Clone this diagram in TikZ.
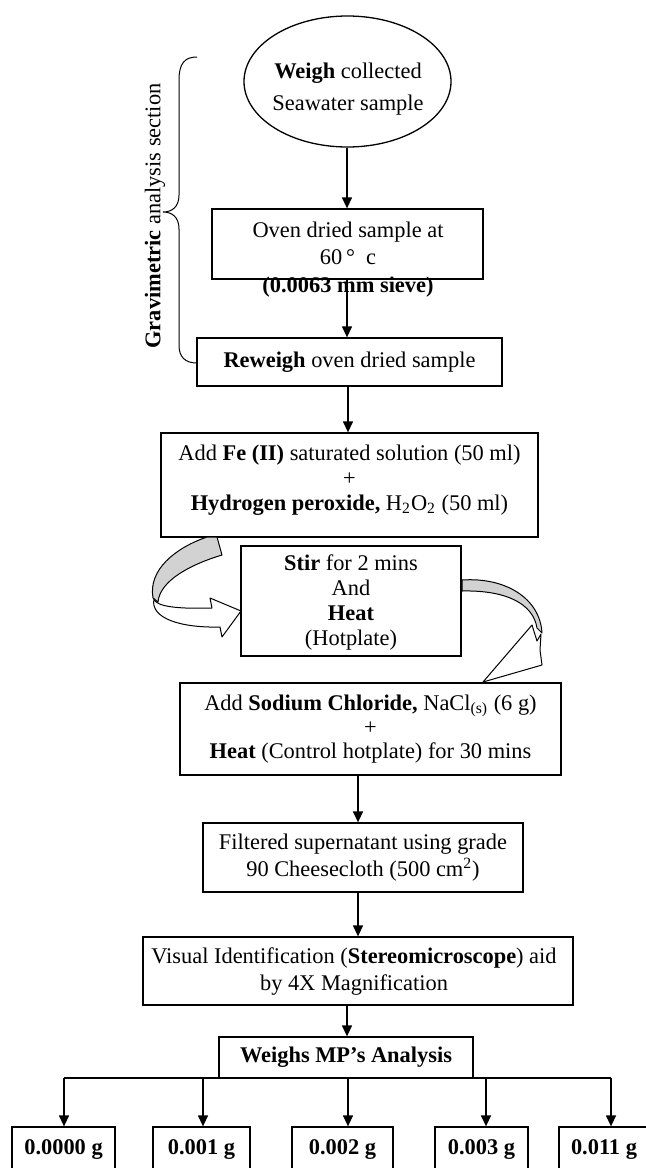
\documentclass[tikz,border=0pt]{standalone}
\usepackage{fontspec}
\setmainfont{Liberation Serif}
\usetikzlibrary{arrows.meta,shapes.geometric}
\begin{document}
\begin{tikzpicture}[x=0.5pt,y=-0.5pt,
  line width=0.65pt,
  box/.style={draw,rectangle,inner sep=0pt,line width=0.65pt},
  txt/.style={align=center,inner sep=0pt,font=\fontsize{11.2pt}{12.5pt}\selectfont},
  arr/.style={-{Triangle[length=5.5pt,width=5pt]},line width=0.65pt},
  band/.style={draw,fill=gray!35,line width=0.5pt,line join=round},
  wharrow/.style={draw,fill=white,line width=0.5pt,line join=round}]
\useasboundingbox (0,0) rectangle (646,1168);
\clip (0,0) rectangle (646,1168);

% ellipse
\node[draw,ellipse,minimum width=103.5pt,minimum height=65.5pt,inner sep=0pt] (ell) at (347.5,81.5) {};
\node[txt,font=\fontsize{11.2pt}{16pt}\selectfont] (ellt) at (348,89) {\textbf{Weigh} collected\\Seawater sample};

% brace and side label
\draw[line width=0.5pt] (197,57) .. controls (185,57) and (179,63) .. (179,80) -- (179,195)
  .. controls (179,207) and (172,212) .. (163,212)
  .. controls (172,212) and (179,217) .. (179,229) -- (179,345)
  .. controls (179,357) and (185,363) .. (197,363);
\node[txt,rotate=90] (side) at (155,216) {\textbf{Gravimetric} analysis section};

% oven
\node[box,minimum width=135.5pt,minimum height=35pt] (oven) at (347.5,244) {};
\node[txt,font=\fontsize{11.2pt}{13.7pt}\selectfont] (ovent) at (348,259.5) {Oven dried sample at\\60\,°\enspace c\\\textbf{(0.0063 mm sieve)}};

% reweigh
\node[box,minimum width=152.5pt,minimum height=24pt,txt] (rew) at (349.5,362) {\textbf{Reweigh} oven dried sample};

% Fe box
\node[box,minimum width=188.5pt,minimum height=52pt] (fe) at (349.5,485) {};
\node[txt] (fet) at (349.5,480) {Add \textbf{Fe (II)} saturated solution (50 ml)\\+\\\textbf{Hydrogen peroxide,} H\textsubscript{2}O\textsubscript{2} (50 ml)};

% stir box
\node[box,minimum width=110pt,minimum height=55pt] (stir) at (351,601) {};
\node[txt] (stirt) at (351,602.5) {\textbf{Stir} for 2 mins\\And\\\textbf{Heat}\\(Hotplate)};

% NaCl box
\node[box,minimum width=190.5pt,minimum height=46pt] (nacl) at (370.5,729) {};
\node[txt,font=\fontsize{11.2pt}{12pt}\selectfont] (naclt) at (370.5,729) {Add \textbf{Sodium Chloride,} NaCl\textsubscript{(s)} (6 g)\\+\\\textbf{Heat} (Control hotplate) for 30 mins};

% filtered
\node[box,minimum width=160pt,minimum height=34.5pt] (filt) at (363,857.5) {};
\node[txt,font=\fontsize{11.2pt}{13.5pt}\selectfont] (filtt) at (363,858) {Filtered supernatant using grade\\90 Cheesecloth (500 cm\textsuperscript{2})};

% visual
\node[box,minimum width=215pt,minimum height=34pt] (vis) at (358,971) {};
\node[txt,font=\fontsize{11.2pt}{13.5pt}\selectfont] (vist) at (354,972) {Visual Identification (\textbf{Stereomicroscope}) aid\\by 4X Magnification};

% weighs
\node[box,minimum width=127pt,minimum height=20.5pt,txt] (wms) at (346,1057.5) {\textbf{Weighs MP’s Analysis}};

% results
\node[box,minimum width=51.5pt,minimum height=31.5pt] (r1) at (63.5,1158.5) {};
\node[box,minimum width=48.5pt,minimum height=31.5pt] (r2) at (201.5,1158.5) {};
\node[box,minimum width=50.5pt,minimum height=31.5pt] (r3) at (342.5,1158.5) {};
\node[box,minimum width=46.5pt,minimum height=31.5pt] (r4) at (481.5,1158.5) {};
\node[box,minimum width=51.5pt,minimum height=31.5pt] (r5) at (610.5,1158.5) {};
\node[txt] (r1t) at (63.5,1150) {\textbf{0.0000 g}};
\node[txt] (r2t) at (201.5,1150) {\textbf{0.001 g}};
\node[txt] (r3t) at (342.5,1150) {\textbf{0.002 g}};
\node[txt] (r4t) at (481.5,1150) {\textbf{0.003 g}};
\node[txt] (r5t) at (604,1150) {\textbf{0.011 g}};

% main arrows
\coordinate (c0) at (347,0);
\draw[arr] (ell.south -| c0) -- (oven.north -| c0);
\draw[arr] (oven.south -| c0) -- (rew.north -| c0);
\coordinate (c1) at (348,0);
\draw[arr] (rew.south -| c1) -- (fe.north -| c1);
\coordinate (c2) at (358,0);
\draw[arr] (nacl.south -| c2) -- (filt.north -| c2);
\draw[arr] (filt.south -| c2) -- (vis.north -| c2);
\coordinate (c3) at (347,0);
\draw[arr] (vis.south -| c3) -- (wms.north -| c3);

% branches
\coordinate (b1) at (64,1078);
\coordinate (b2) at (203,1078);
\coordinate (b3) at (348,1078);
\coordinate (b4) at (486,1078);
\coordinate (b5) at (611,1078);
\draw (b1) -- (b5);
\foreach \b/\r in {b1/r1,b2/r2,b3/r3,b4/r4,b5/r5}
  \draw[arr] (\b) -- (\b |- \r.north);

% left curved arrow (Fe -> Stir)
\draw[band] (207,537) -- (217,537) -- (222,555)
  .. controls (192,564) and (160,580) .. (158,602) -- (153,598)
  .. controls (148,570) and (175,548) .. (207,537) -- cycle;
\draw[wharrow] (154,599) .. controls (156,607) and (180,609) .. (212,608)
  -- (210,598) -- (241,611) -- (222,637) -- (220,627)
  .. controls (180,628) and (150,618) .. (154,599) -- cycle;

% right curved arrow (Stir -> NaCl)
\draw[band] (462,580) .. controls (505,577) and (540,598) .. (542,633)
  -- (537,628) .. controls (533,603) and (505,590) .. (462,591) -- cycle;
\draw[wharrow] (532,625) -- (537,641) -- (541,634) -- (540,650) -- (542,665) -- (483,682) -- cycle;
\end{tikzpicture}
\end{document}
